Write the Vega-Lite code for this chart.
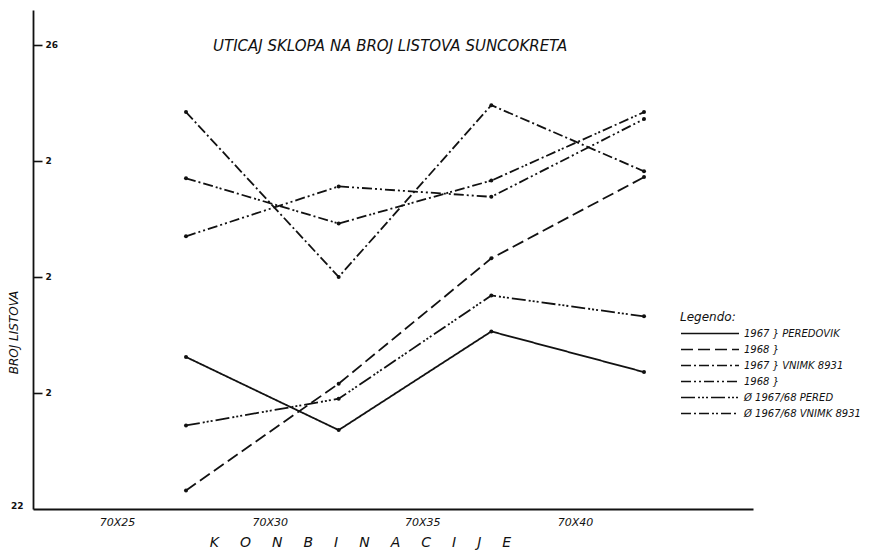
{
  "$schema": "https://vega.github.io/schema/vega-lite/v6.json",
  "width": 720,
  "height": 499,
  "autosize": {"type": "none"},
  "padding": {"left": 33, "top": 10, "right": 124, "bottom": 41},
  "background": "white",
  "title": {
    "text": "UTICAJ SKLOPA NA BROJ LISTOVA SUNCOKRETA",
    "anchor": "start",
    "frame": "group",
    "dx": 180,
    "dy": 44,
    "offset": 0,
    "font": "DejaVu Sans",
    "fontSize": 15,
    "fontStyle": "italic",
    "fontWeight": "normal",
    "color": "#111"
  },
  "config": {
    "view": {"stroke": null},
    "font": "DejaVu Sans"
  },
  "data": {
    "values": [
      {"kombinacija": "70X25", "serija": "1967 PEREDOVIK", "broj": 23.31},
      {"kombinacija": "70X30", "serija": "1967 PEREDOVIK", "broj": 22.68},
      {"kombinacija": "70X35", "serija": "1967 PEREDOVIK", "broj": 23.53},
      {"kombinacija": "70X40", "serija": "1967 PEREDOVIK", "broj": 23.18},
      {"kombinacija": "70X25", "serija": "1968 PEREDOVIK", "broj": 22.16},
      {"kombinacija": "70X30", "serija": "1968 PEREDOVIK", "broj": 23.08},
      {"kombinacija": "70X35", "serija": "1968 PEREDOVIK", "broj": 24.16},
      {"kombinacija": "70X40", "serija": "1968 PEREDOVIK", "broj": 24.86},
      {"kombinacija": "70X25", "serija": "1967 VNIMK 8931", "broj": 25.42},
      {"kombinacija": "70X30", "serija": "1967 VNIMK 8931", "broj": 24.0},
      {"kombinacija": "70X35", "serija": "1967 VNIMK 8931", "broj": 25.48},
      {"kombinacija": "70X40", "serija": "1967 VNIMK 8931", "broj": 24.91},
      {"kombinacija": "70X25", "serija": "1968 VNIMK 8931", "broj": 24.35},
      {"kombinacija": "70X30", "serija": "1968 VNIMK 8931", "broj": 24.78},
      {"kombinacija": "70X35", "serija": "1968 VNIMK 8931", "broj": 24.69},
      {"kombinacija": "70X40", "serija": "1968 VNIMK 8931", "broj": 25.36},
      {"kombinacija": "70X25", "serija": "Ø 1967/68 PERED", "broj": 22.72},
      {"kombinacija": "70X30", "serija": "Ø 1967/68 PERED", "broj": 22.95},
      {"kombinacija": "70X35", "serija": "Ø 1967/68 PERED", "broj": 23.84},
      {"kombinacija": "70X40", "serija": "Ø 1967/68 PERED", "broj": 23.66},
      {"kombinacija": "70X25", "serija": "Ø 1967/68 VNIMK 8931", "broj": 24.85},
      {"kombinacija": "70X30", "serija": "Ø 1967/68 VNIMK 8931", "broj": 24.46},
      {"kombinacija": "70X35", "serija": "Ø 1967/68 VNIMK 8931", "broj": 24.83},
      {"kombinacija": "70X40", "serija": "Ø 1967/68 VNIMK 8931", "broj": 25.42}
    ]
  },
  "layer": [
    {
      "mark": {"type": "line", "strokeWidth": 1.8, "color": "#111"},
      "encoding": {
        "x": {
          "field": "kombinacija",
          "type": "ordinal",
          "sort": ["70X25", "70X30", "70X35", "70X40"],
          "scale": {"type": "point", "padding": 0.858, "align": 0.584},
          "axis": {
            "ticks": false,
            "labelAngle": 0,
            "labelOffset": -69,
            "labelPadding": 7,
            "labelBaseline": "top",
            "labelFontSize": 11,
            "labelFontStyle": "italic",
            "labelColor": "#111",
            "domainColor": "#111",
            "domainWidth": 1.8,
            "grid": false,
            "title": "K\u2003\u2002O\u2003\u2002N\u2003\u2002B\u2003\u2002I\u2003\u2002N\u2003\u2002A\u2003\u2002C\u2003\u2002I\u2003\u2002J\u2003\u2002E",
            "titleX": 327,
            "titleY": 26,
            "titleBaseline": "top",
            "titleFontSize": 14,
            "titleFontStyle": "italic",
            "titleFontWeight": "normal",
            "titleColor": "#111"
          }
        },
        "y": {
          "field": "broj",
          "type": "quantitative",
          "scale": {"domain": [22, 26.3], "nice": false, "zero": false},
          "axis": {
            "orient": "left",
            "values": [23, 24, 25, 26],
            "labelExpr": "datum.value == 26 ? '26' : '2'",
            "tickSize": -9,
            "tickWidth": 1.6,
            "tickColor": "#111",
            "labelAlign": "left",
            "labelPadding": -3,
            "labelFontSize": 9,
            "labelFontWeight": "bold",
            "labelColor": "#111",
            "domainColor": "#111",
            "domainWidth": 1.8,
            "grid": false,
            "title": "BROJ LISTOVA",
            "titleX": -20,
            "titleY": 322,
            "titleBaseline": "middle",
            "titleFontSize": 12,
            "titleFontStyle": "italic",
            "titleFontWeight": "normal",
            "titleColor": "#111"
          }
        },
        "strokeDash": {
          "field": "serija",
          "type": "nominal",
          "scale": {
            "domain": ["1967 PEREDOVIK", "1968 PEREDOVIK", "1967 VNIMK 8931", "1968 VNIMK 8931", "Ø 1967/68 PERED", "Ø 1967/68 VNIMK 8931"],
            "range": [[1, 0], [12, 5], [10, 3, 2, 3], [10, 3, 2, 3, 2, 3], [14, 3, 2, 2, 2, 2, 2, 3], [10, 3, 2, 3, 10, 3, 2, 2, 2, 3]]
          },
          "legend": {
            "orient": "none",
            "legendX": 647,
            "legendY": 302,
            "title": "Legendo:",
            "titleFontSize": 12,
            "titleFontStyle": "italic",
            "titleFontWeight": "normal",
            "titleColor": "#111",
            "titlePadding": 3,
            "symbolType": "stroke",
            "symbolSize": 3364,
            "symbolStrokeWidth": 1.5,
            "symbolStrokeColor": "#111",
            "clipHeight": 13,
            "rowPadding": 3,
            "labelOffset": 4,
            "labelFontSize": 10,
            "labelFontStyle": "italic",
            "labelColor": "#111",
            "labelLimit": 300,
            "labelExpr": "datum.value == '1967 PEREDOVIK' ? '1967 } PEREDOVIK' : datum.value == '1968 PEREDOVIK' ? '1968 }' : datum.value == '1967 VNIMK 8931' ? '1967 } VNIMK 8931' : datum.value == '1968 VNIMK 8931' ? '1968 }' : datum.value"
          }
        }
      }
    },
    {
      "mark": {"type": "point", "filled": true, "size": 16, "color": "#111", "opacity": 1},
      "encoding": {
        "x": {"field": "kombinacija", "type": "ordinal", "sort": ["70X25", "70X30", "70X35", "70X40"]},
        "y": {
          "field": "broj",
          "type": "quantitative",
          "axis": {
            "orient": "left",
            "values": [22],
            "labelExpr": "'22'",
            "domain": false,
            "ticks": false,
            "grid": false,
            "labelPadding": 10,
            "labelOffset": -4,
            "labelFontSize": 9,
            "labelFontWeight": "bold",
            "labelColor": "#111",
            "title": null
          }
        }
      }
    }
  ],
  "resolve": {"axis": {"y": "independent"}}
}
